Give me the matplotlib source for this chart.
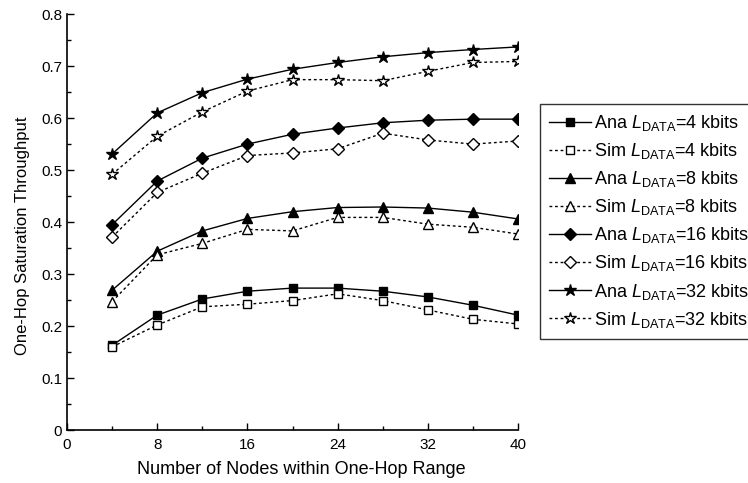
import matplotlib
matplotlib.use("Agg")
import matplotlib.pyplot as plt
from matplotlib.ticker import MultipleLocator

plt.rcParams['font.family'] = ['Liberation Sans', 'DejaVu Sans']
plt.rcParams['mathtext.fontset'] = 'custom'
plt.rcParams['mathtext.rm'] = 'Liberation Sans'
plt.rcParams['mathtext.it'] = 'Liberation Sans:italic'

# node counts
nodes = [4, 8, 12, 16, 20, 24, 28, 32, 36, 40]

# throughput values
ana_4 = [0.163, 0.221, 0.252, 0.267, 0.273, 0.273, 0.267, 0.256, 0.240, 0.221]
sim_4 = [0.160, 0.202, 0.237, 0.242, 0.249, 0.262, 0.249, 0.231, 0.213, 0.204]
ana_8 = [0.269, 0.344, 0.383, 0.407, 0.420, 0.428, 0.429, 0.427, 0.419, 0.406]
sim_8 = [0.247, 0.337, 0.359, 0.386, 0.383, 0.409, 0.409, 0.396, 0.390, 0.377]
ana_16 = [0.395, 0.479, 0.523, 0.550, 0.569, 0.581, 0.591, 0.596, 0.598, 0.598]
sim_16 = [0.371, 0.457, 0.494, 0.528, 0.533, 0.541, 0.571, 0.558, 0.550, 0.556]
ana_32 = [0.531, 0.610, 0.649, 0.675, 0.694, 0.707, 0.718, 0.726, 0.732, 0.737]
sim_32 = [0.492, 0.565, 0.612, 0.652, 0.674, 0.674, 0.672, 0.690, 0.707, 0.709]

sizes = [4, 8, 16, 32]
ana = [ana_4, ana_8, ana_16, ana_32]
sim = [sim_4, sim_8, sim_16, sim_32]
markers = ['s', '^', 'D', '*']
msizes = [6, 7, 6, 9]

fig = plt.figure(figsize=(7.48, 4.83), dpi=100)
ax = fig.add_axes([0.0896, 0.1097, 0.603, 0.861])

for s, a, b, m, ms in zip(sizes, ana, sim, markers, msizes):
    ax.plot(nodes, a, color='black', lw=1, marker=m, ms=ms,
            mfc='black', mec='black',
            label='Ana $L_{\\mathrm{DATA}}$=%d kbits' % s)
    ax.plot(nodes, b, color='black', lw=1, ls=(0, (2, 2)), marker=m,
            ms=ms, mfc='white', mec='black', mew=1,
            label='Sim $L_{\\mathrm{DATA}}$=%d kbits' % s)

ax.set_xlim(0, 40)
ax.set_ylim(0, 0.8)
ax.xaxis.set_major_locator(MultipleLocator(8))
ax.xaxis.set_minor_locator(MultipleLocator(4))
ax.yaxis.set_major_locator(MultipleLocator(0.1))
ax.yaxis.set_minor_locator(MultipleLocator(0.05))
ax.set_yticklabels(['0' if t == 0 else '%.1f' % t for t in ax.get_yticks()])
ax.tick_params(which='both', direction='in', labelsize=11, top=False, right=False)
ax.tick_params(which='major', length=5, width=1)
ax.tick_params(which='minor', length=3, width=1)
ax.tick_params(axis='x', pad=6)
ax.spines['top'].set_visible(False)
ax.spines['right'].set_visible(False)
ax.spines['left'].set_linewidth(1.2)
ax.spines['bottom'].set_linewidth(1.2)

ax.set_xlabel('Number of Nodes within One-Hop Range', fontsize=13, labelpad=6)
ax.set_ylabel('One-Hop Saturation Throughput', fontsize=12, labelpad=8)
ax.xaxis.label.set_x(0.519)
ax.yaxis.label.set_y(0.4675)

leg = fig.legend(loc='upper left', bbox_to_anchor=(0.722, 0.785),
                 bbox_transform=fig.transFigure, fontsize=13,
                 frameon=True, fancybox=False, edgecolor='black',
                 handlelength=2.3, handletextpad=0.2, labelspacing=0.45,
                 borderpad=0.5, borderaxespad=0)
leg.get_frame().set_linewidth(1)

fig.savefig('out.png', dpi=100)
